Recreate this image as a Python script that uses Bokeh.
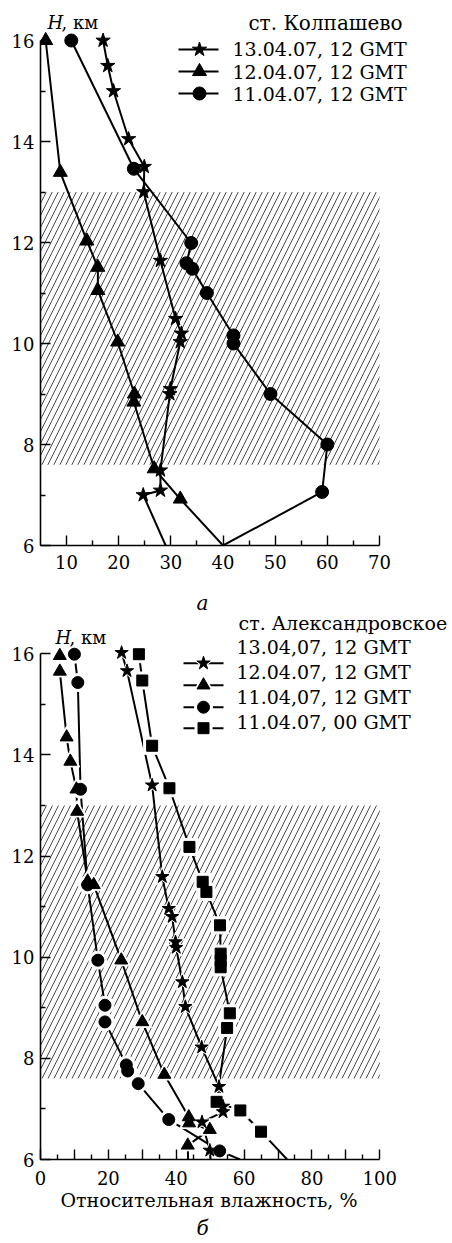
import numpy as np
from bokeh.plotting import figure
from bokeh.layouts import column
from bokeh.models import Range1d, FixedTicker, Label, Title
from bokeh.embed import file_html
from bokeh.resources import INLINE

# ---------------- data: panel "а" (ст. Колпашево) ----------------
a_station = "ст. Колпашево"
a_labels = ["13.04.07, 12 GMT", "12.04.07, 12 GMT", "11.04.07, 12 GMT"]
a_rh_1304 = [29.0, 24.7, 28.0, 28.0, 29.8, 29.9, 31.8, 32.0, 30.9, 28.0, 24.8, 24.9, 21.9, 19.0, 17.9, 17.0]
a_h_1304 = [6.0, 7.0, 7.09, 7.49, 9.0, 9.1, 10.03, 10.2, 10.49, 11.64, 13.0, 13.5, 14.05, 15.0, 15.5, 16.0]
a_rh_1204 = [40.0, 31.8, 26.8, 22.9, 23.0, 19.8, 16.0, 16.0, 13.9, 8.8, 6.0]
a_h_1204 = [6.0, 6.92, 7.52, 8.84, 9.0, 10.03, 11.05, 11.51, 12.03, 13.39, 16.0]
a_rh_1104 = [40.0, 59.0, 60.0, 49.1, 42.0, 42.0, 36.9, 34.1, 33.0, 33.9, 22.9, 10.9]
a_h_1104 = [6.0, 7.06, 8.0, 9.0, 10.0, 10.16, 11.0, 11.48, 11.59, 11.99, 13.46, 16.0]
a_xticks = [10, 20, 30, 40, 50, 60, 70]
a_xminor = [15, 25, 35, 45, 55, 65]
a_xlim = (5, 70)
a_sub = "а"

# ---------------- data: panel "б" (ст. Александровское) ----------------
b_station = "ст. Александровское"
b_labels = ["13.04,07, 12 GMT", "12.04.07, 12 GMT", "11.04,07, 12 GMT", "11.04.07, 00 GMT"]
b_rh_1304 = [50.1, 49.9, 47.6, 53.8, 53.8, 52.6, 47.5, 42.7, 41.8, 40.0, 39.8, 38.8, 37.8, 35.9, 32.9, 25.5, 23.9]
b_h_1304 = [6.0, 6.18, 6.74, 6.94, 7.05, 7.44, 8.22, 9.02, 9.51, 10.19, 10.3, 10.8, 10.96, 11.59, 13.4, 15.66, 16.02]
b_rh_1204 = [43.5, 43.4, 49.9, 43.8, 43.7, 36.5, 30.0, 23.8, 15.7, 13.9, 10.8, 10.6, 8.8, 7.7, 5.7, 5.7]
b_h_1204 = [6.0, 6.28, 6.59, 6.72, 6.84, 7.68, 8.72, 9.94, 11.43, 11.5, 12.88, 13.32, 13.87, 14.35, 15.65, 15.96]
b_rh_1104 = [58.8, 52.8, 37.8, 28.8, 25.7, 25.3, 19.0, 19.0, 16.9, 13.9, 11.8, 11.0, 10.0]
b_h_1104 = [6.0, 6.17, 6.79, 7.5, 7.75, 7.87, 8.72, 9.05, 9.94, 11.43, 13.32, 15.43, 15.99]
b_rh_1104_00 = [72.7, 65.0, 58.9, 51.9, 55.0, 55.8, 53.1, 53.1, 53.1, 52.9, 48.9, 47.8, 43.9, 38.0, 32.9, 30.0, 29.0]
b_h_1104_00 = [6.0, 6.55, 6.97, 7.14, 8.6, 8.89, 9.8, 9.93, 10.07, 10.63, 11.29, 11.49, 12.18, 13.34, 14.18, 15.47, 15.99]
b_xticks = [0, 10, 20, 30, 40, 50, 60, 70, 80, 90, 100]
b_xlabeled = [0, 20, 40, 60, 80, 100]
b_xminor = [5, 15, 25, 35, 45, 55, 65, 75, 85, 95]
b_xlim = (0, 100)
b_xtitle = "Относительная влажность, %"
b_sub = "б"

# shared
h_ticks = [6, 8, 10, 12, 14, 16]
h_minor = [7, 9, 11, 13, 15]
h_lim = (6, 16)
hatch_h = [7.6, 13.0]
h_unit = ", км"

FONT = "DejaVu Serif"
FIG_W = 452
FRAME_L = 40


def make_panel(canvas_top, height, bottom_border, xcal, ycal, xlim, xticks, xminor, xlabeled):
    (xv0, xp0), (xv1, xp1) = xcal
    (yv0, yp0), (yv1, yp1) = ycal
    sx = (xv1 - xv0) / (xp1 - xp0)
    sy = (yv1 - yv0) / (yp1 - yp0)

    def X(px):
        return xv0 + (px - xp0) * sx

    def Y(py):
        return yv0 + (py - yp0) * sy

    frame_h = height - bottom_border
    p = figure(width=FIG_W, height=height,
               x_range=Range1d(xlim[0], xlim[0] + (FIG_W - FRAME_L) * sx),
               y_range=Range1d(h_lim[0], h_lim[0] - frame_h * sy),
               min_border_left=FRAME_L, min_border_right=0, min_border_top=0,
               min_border_bottom=bottom_border,
               output_backend="svg", toolbar_location=None)
    p.xgrid.visible = False
    p.ygrid.visible = False
    p.outline_line_color = None
    p.background_fill_color = "white"
    p.border_fill_color = "white"

    p.xaxis.bounds = xlim
    p.yaxis.bounds = h_lim
    p.xaxis.ticker = FixedTicker(ticks=xticks, minor_ticks=xminor)
    p.yaxis.ticker = FixedTicker(ticks=h_ticks, minor_ticks=h_minor)
    p.xaxis.major_label_overrides = {t: "" for t in xticks if t not in xlabeled}
    for ax in (p.xaxis, p.yaxis):
        ax.axis_line_width = 1.6
        ax.axis_line_color = "black"
        ax.major_tick_in = 10
        ax.major_tick_out = 0
        ax.minor_tick_in = 5
        ax.minor_tick_out = 0
        ax.major_tick_line_width = 1.4
        ax.minor_tick_line_width = 1.4
        ax.major_tick_line_color = "black"
        ax.minor_tick_line_color = "black"
        ax.major_label_text_font = FONT
        ax.major_label_text_font_size = "18px"
        ax.major_label_text_color = "black"
    p.yaxis.major_label_standoff = 6
    p.xaxis.major_label_standoff = 9

    # hatched layer
    p.quad(left=[xlim[0]], right=[xlim[1]], bottom=[hatch_h[0]], top=[hatch_h[1]],
           fill_color=None, line_color=None, hatch_pattern="/",
           hatch_color="#4a4a4a", hatch_weight=1.0, hatch_scale=12)
    return p, X, Y


def draw_series(p, series, markers, msizes, halo):
    for xs, hs in series:
        p.line(xs, hs, line_color="black", line_width=2)
    pts = []
    for (xs, hs), m, s in zip(series, markers, msizes):
        xs = np.array(xs)
        hs = np.array(hs)
        mask = hs > h_lim[0]
        pts.append((xs[mask], hs[mask], m, s))
    if halo:
        for xs, hs, m, s in pts:
            p.scatter(xs, hs, marker=m, size=s + 6, fill_color="white", line_color="white")
    for xs, hs, m, s in pts:
        p.scatter(xs, hs, marker=m, size=s, fill_color="black", line_color="black", line_width=1)


def lbl(p, x, y, text, size="19px", align="left", style="normal"):
    p.add_layout(Label(x=x, y=y, text=text, text_font=FONT, text_font_size=size,
                       text_align=align, text_baseline="middle", text_color="black",
                       text_font_style=style))


# ---------------- panel a ----------------
A_MARK = ["star", "triangle", "circle"]
A_SIZE = [15, 14, 13]
pa, Xa, Ya = make_panel(0, 590, 45, ((5, 40), (70, 379)), ((6, 545), (16, 40)),
                        a_xlim, a_xticks, a_xminor, a_xticks)
draw_series(pa, [(a_rh_1304, a_h_1304), (a_rh_1204, a_h_1204), (a_rh_1104, a_h_1104)],
            A_MARK, A_SIZE, False)
lbl(pa, Xa(47), Ya(22), "H", size="18px", style="italic")
lbl(pa, Xa(61), Ya(22), h_unit, size="18px")
lbl(pa, Xa(325), Ya(22), a_station, size="20px", align="center")
for i, (lab, m, s) in enumerate(zip(a_labels, A_MARK, A_SIZE)):
    ly = [49, 71, 93][i]
    ty = [48, 71, 93][i]
    pa.line([Xa(178), Xa(218)], [Ya(ly), Ya(ly)], line_color="black", line_width=2)
    pa.scatter([Xa(199)], [Ya(ly)], marker=m, size=s, fill_color="black", line_color="black")
    lbl(pa, Xa(232), Ya(ty), lab)

# ---------------- panel b ----------------
B_MARK = ["star", "triangle", "circle", "square"]
B_SIZE = [14, 13, 12, 11]
pb, Xb, Yb = make_panel(590, 653, 84, ((0, 40), (100, 379.3)), ((6, 1159.3), (16, 653.5)),
                        b_xlim, b_xticks, b_xminor, b_xlabeled)
draw_series(pb, [(b_rh_1304, b_h_1304), (b_rh_1204, b_h_1204), (b_rh_1104, b_h_1104),
                 (b_rh_1104_00, b_h_1104_00)], B_MARK, B_SIZE, True)
lbl(pb, Xb(202), Yb(603), a_sub, size="20px", align="center", style="italic")
lbl(pb, Xb(55), Yb(637), "H", size="18px", style="italic")
lbl(pb, Xb(69), Yb(637), h_unit, size="18px")
lbl(pb, Xb(238), Yb(623), b_station)
for i, (lab, m, s) in enumerate(zip(b_labels, B_MARK, B_SIZE)):
    ly = [663, 685, 707, 728][i]
    ty = [647, 672, 697, 722][i]
    pb.line([Xb(183), Xb(223)], [Yb(ly), Yb(ly)], line_color="black", line_width=2)
    pb.scatter([Xb(203)], [Yb(ly)], marker=m, size=s + 6, fill_color="white", line_color="white")
    pb.scatter([Xb(203)], [Yb(ly)], marker=m, size=s, fill_color="black", line_color="black")
    lbl(pb, Xb(236), Yb(ty), lab)

pb.xaxis.major_label_standoff = 11
pb.add_layout(Title(text=b_xtitle, align="left", offset=20, standoff=2,
                    text_font=FONT, text_font_size="19px", text_font_style="normal",
                    text_color="black", vertical_align="top"), "below")
pb.add_layout(Title(text=b_sub, align="left", offset=156, standoff=4,
                    text_font=FONT, text_font_size="20px", text_font_style="italic",
                    text_color="black", vertical_align="top"), "below")

layout = column(pa, pb)
open("out.html", "w").write(file_html(layout, INLINE))
